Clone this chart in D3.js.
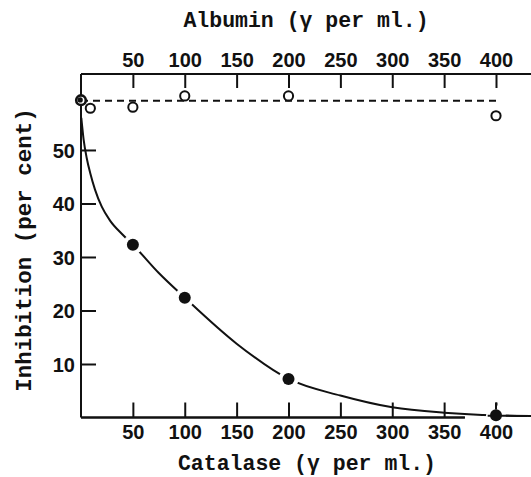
<!DOCTYPE html>
<html><head><meta charset="utf-8">
<script src="https://cdn.jsdelivr.net/npm/d3@7"></script>
<style>
html,body{margin:0;padding:0;background:#fff;}
svg{display:block;}
</style></head>
<body>
<svg id="chart" width="531" height="477"></svg>
<script>
// ---- data ----
const xTicks = [50, 100, 150, 200, 250, 300, 350, 400];
const yTicks = [10, 20, 30, 40, 50];
// Catalase (filled circles)
const catalaseX = [50, 100, 200, 400];
const catalaseY = [32.3, 22.4, 7.2, 0.4];
// Control point at zero concentration (shared)
const controlX = [0];
const controlY = [59.3];
// Albumin (open circles)
const albuminX = [9, 50, 100, 200, 400];
const albuminY = [57.8, 58.0, 60.1, 60.1, 56.4];
// Albumin dashed reference line
const albuminLineX = [0, 400];
const albuminLineY = [59.2, 59.2];
// Catalase fitted curve
const curveX = [0.3, 2.5, 5.5, 9, 13.5, 20, 28, 40, 50, 75, 100, 150, 200, 250, 300, 350, 400, 430];
const curveY = [56.0, 52.0, 48.5, 45.6, 42.6, 39.4, 36.8, 34.2, 32.3, 27.0, 22.4, 13.8, 7.2, 4.1, 1.9, 0.9, 0.4, 0.3];

const svg = d3.select("#chart");
const x = d3.scaleLinear().domain([0, 400]).range([81, 496]);
const y = d3.scaleLinear().domain([0, 64.2]).range([417.5, 74]);

const ink = "#111";
const tickFont = "'Liberation Sans', Arial, sans-serif";
const labelFont = "'Liberation Mono', 'Courier New', monospace";

// axis lines
svg.append("line").attr("x1", x(0)).attr("x2", x(0)).attr("y1", y(64.2)).attr("y2", y(0))
  .attr("stroke", ink).attr("stroke-width", 2);
svg.append("line").attr("x1", x(0)).attr("x2", x(370)).attr("y1", y(0)).attr("y2", y(0))
  .attr("stroke", ink).attr("stroke-width", 2);
svg.append("line").attr("x1", x(0)).attr("x2", x(436)).attr("y1", y(64.2)).attr("y2", y(64.2))
  .attr("stroke", ink).attr("stroke-width", 2);

// bottom axis
const gB = svg.append("g").attr("transform", `translate(0,${y(0)})`)
  .call(d3.axisBottom(x).tickValues(xTicks).tickSize(-15).tickSizeOuter(0).tickPadding(8));
// top axis
const gT = svg.append("g").attr("transform", `translate(0,${y(64.2)})`)
  .call(d3.axisTop(x).tickValues(xTicks).tickSize(-14).tickSizeOuter(0).tickPadding(8));
// left axis
const gL = svg.append("g").attr("transform", `translate(${x(0)},0)`)
  .call(d3.axisLeft(y).tickValues(yTicks).tickSize(-15).tickSizeOuter(0).tickPadding(6));

[gB, gT, gL].forEach(g => {
  g.select(".domain").remove();
  g.selectAll(".tick line").attr("stroke", ink).attr("stroke-width", 2);
  g.selectAll(".tick text").attr("fill", ink)
    .style("font-family", tickFont).style("font-weight", "bold").style("font-size", "20px");
});
gB.selectAll(".tick text").attr("y", 21).attr("dy", 0);
gT.selectAll(".tick text").attr("y", -7).attr("dy", 0);
gL.selectAll(".tick text").attr("x", -6).attr("dy", "0.36em");

// dashed albumin line
svg.append("path")
  .datum(albuminLineX.map((d, i) => [d, albuminLineY[i]]))
  .attr("d", d3.line().x(d => x(d[0])).y(d => y(d[1])))
  .attr("fill", "none").attr("stroke", ink).attr("stroke-width", 1.8)
  .attr("stroke-dasharray", "7,5");

// catalase curve
svg.append("path")
  .datum(curveX.map((d, i) => [d, curveY[i]]))
  .attr("d", d3.line().x(d => x(d[0])).y(d => y(d[1])).curve(d3.curveMonotoneX))
  .attr("fill", "none").attr("stroke", ink).attr("stroke-width", 2);

const catData = catalaseX.map((d, i) => [d, catalaseY[i]]);
// white halos make the gaps in the curve next to the dots
svg.selectAll("circle.halo")
  .data(catData)
  .join("circle").attr("class", "halo")
  .attr("cx", d => x(d[0])).attr("cy", d => y(d[1])).attr("r", 10)
  .attr("fill", "#fff");
// keep axis ticks visible through halos
svg.append("line").attr("x1", x(400)).attr("x2", x(400)).attr("y1", y(0) - 15).attr("y2", y(0) - 8)
  .attr("stroke", ink).attr("stroke-width", 2);
svg.append("line").attr("x1", x(0)).attr("x2", x(370)).attr("y1", y(0)).attr("y2", y(0))
  .attr("stroke", ink).attr("stroke-width", 2);
svg.append("line").attr("x1", x(392)).attr("x2", x(436)).attr("y1", y(0.35)).attr("y2", y(0.3))
  .attr("stroke", ink).attr("stroke-width", 2);
svg.selectAll("circle.cat")
  .data(catData)
  .join("circle").attr("class", "cat")
  .attr("cx", d => x(d[0])).attr("cy", d => y(d[1])).attr("r", 6)
  .attr("fill", ink);

// control point: ring with a filled centre
const ctl = controlX.map((d, i) => [d, controlY[i]]);
svg.selectAll("circle.ctlring")
  .data(ctl).join("circle").attr("class", "ctlring")
  .attr("cx", d => x(d[0])).attr("cy", d => y(d[1])).attr("r", 4.8)
  .attr("fill", "#fff").attr("stroke", ink).attr("stroke-width", 2.6);
svg.selectAll("circle.ctldot")
  .data(ctl).join("circle").attr("class", "ctldot")
  .attr("cx", d => x(d[0]) - 0.8).attr("cy", d => y(d[1]) - 0.3).attr("r", 2.6)
  .attr("fill", ink);

// albumin open points
svg.selectAll("circle.alb")
  .data(albuminX.map((d, i) => [d, albuminY[i]]))
  .join("circle").attr("class", "alb")
  .attr("cx", d => x(d[0])).attr("cy", d => y(d[1])).attr("r", 4.6)
  .attr("fill", "#fff").attr("stroke", ink).attr("stroke-width", 2);

// axis titles
svg.append("text").attr("x", 306).attr("y", 27).attr("text-anchor", "middle")
  .style("font-family", labelFont).style("font-weight", "bold").style("font-size", "21.5px")
  .attr("fill", ink).text("Albumin (γ per ml.)");
svg.append("text").attr("x", 307).attr("y", 470).attr("text-anchor", "middle")
  .style("font-family", labelFont).style("font-weight", "bold").style("font-size", "21.5px")
  .attr("fill", ink).text("Catalase (γ per ml.)");
svg.append("text").attr("transform", "translate(31,250) rotate(-90)").attr("text-anchor", "middle")
  .style("font-family", labelFont).style("font-weight", "bold").style("font-size", "22.5px")
  .attr("fill", ink).text("Inhibition (per cent)");
</script>
</body></html>
